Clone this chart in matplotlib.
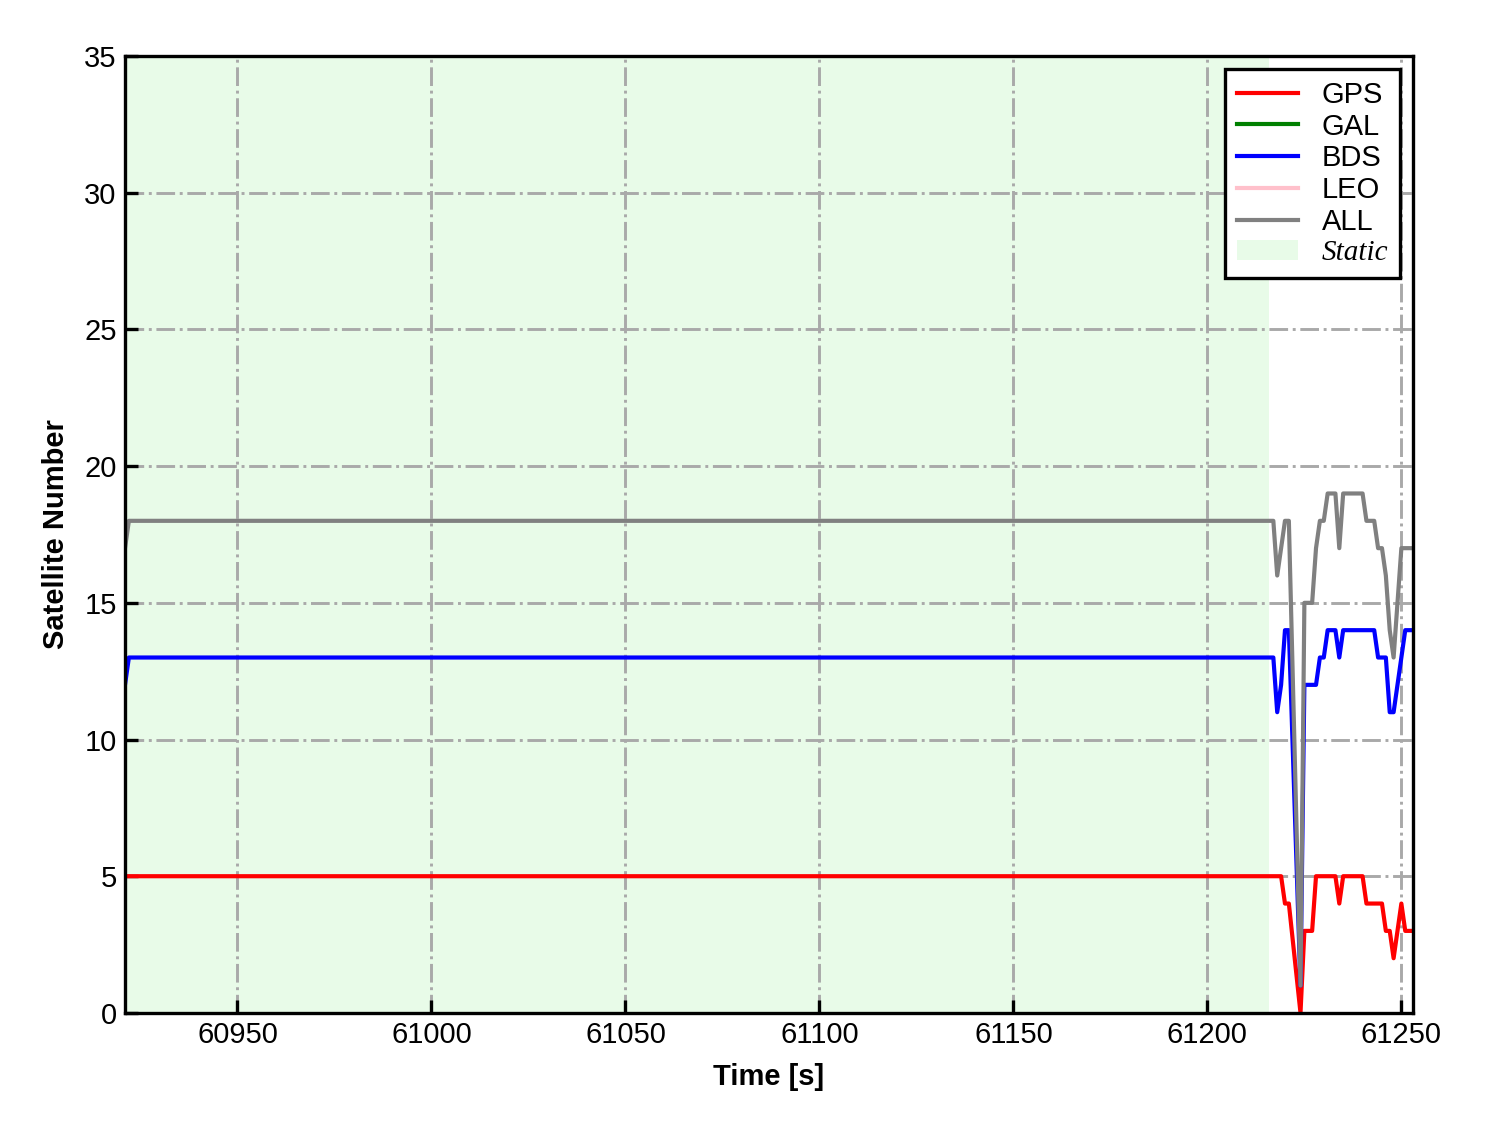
import matplotlib
matplotlib.use("Agg")
import matplotlib.pyplot as plt
from matplotlib.patches import Patch

# ---- data ----
time = [60921, 60922, 61217, 61218, 61219, 61220, 61221, 61224, 61225, 61226,
        61227, 61228, 61229, 61230, 61231, 61232, 61233, 61234, 61235, 61236,
        61237, 61238, 61239, 61240, 61241, 61242, 61243, 61244, 61245, 61246,
        61247, 61248, 61249, 61250, 61251, 61252, 61253]
gps = [5, 5, 5, 5, 5, 4, 4, 0, 3, 3,
       3, 5, 5, 5, 5, 5, 5, 4, 5, 5,
       5, 5, 5, 5, 4, 4, 4, 4, 4, 3,
       3, 2, 3, 4, 3, 3, 3]
bds = [12, 13, 13, 11, 12, 14, 14, 1, 12, 12,
       12, 12, 13, 13, 14, 14, 14, 13, 14, 14,
       14, 14, 14, 14, 14, 14, 14, 13, 13, 13,
       11, 11, 12, 13, 14, 14, 14]
all_sat = [17, 18, 18, 16, 17, 18, 18, 1, 15, 15,
           15, 17, 18, 18, 19, 19, 19, 17, 19, 19,
           19, 19, 19, 19, 18, 18, 18, 17, 17, 16,
           14, 13, 15, 17, 17, 17, 17]
gal_time, gal = [], []
leo_time, leo = [], []
static_span = [60921, 61216]
xticks = [60950, 61000, 61050, 61100, 61150, 61200, 61250]
yticks = [0, 5, 10, 15, 20, 25, 30, 35]

plt.rcParams['font.family'] = ['Liberation Sans', 'DejaVu Sans']

fig = plt.figure(figsize=(14.88, 11.33), dpi=100)
ax = fig.add_axes([0.084, 0.106, 0.8656, 0.8445])

ax.axvspan(static_span[0], static_span[1], color='#e8fbe8', lw=0, zorder=0.5)

lw = 3.0
ax.plot(time, gps, color='red', lw=lw, label='GPS')
ax.plot(gal_time, gal, color='green', lw=lw, label='GAL')
ax.plot(time, bds, color='blue', lw=lw, label='BDS')
ax.plot(leo_time, leo, color='pink', lw=lw, label='LEO')
ax.plot(time, all_sat, color='gray', lw=lw, label='ALL')

ax.set_xlim(time[0], time[-1])
ax.set_ylim(0, 35)
ax.set_xticks(xticks)
ax.set_yticks(yticks)
ax.tick_params(direction='in', length=9.5, width=2.4, labelsize=21, pad=6)

ax.grid(True, color='darkgray', linestyle='-.', linewidth=2.1)

for s in ax.spines.values():
    s.set_linewidth(2.4)

ax.set_xlabel('Time [s]', fontsize=21, fontweight='bold', labelpad=10)
ax.set_ylabel('Satellite Number', fontsize=21, fontweight='bold', labelpad=10)

handles, labels = ax.get_legend_handles_labels()
handles.append(Patch(facecolor='#e8fbe8', edgecolor='none'))
labels.append('Static')
leg = ax.legend(handles, labels, loc='upper right', fontsize=21, frameon=True,
                fancybox=False, edgecolor='black', framealpha=1,
                handlelength=2.1, labelspacing=0.13, borderpad=0.4,
                handletextpad=0.8, borderaxespad=0.45)
leg.get_frame().set_linewidth(2.4)
for t in leg.get_texts():
    if t.get_text() == 'Static':
        t.set_fontfamily(['Liberation Serif'])
        t.set_fontstyle('italic')
for l in leg.get_lines():
    l.set_linewidth(3.0)

fig.savefig('out.png', dpi=100)
